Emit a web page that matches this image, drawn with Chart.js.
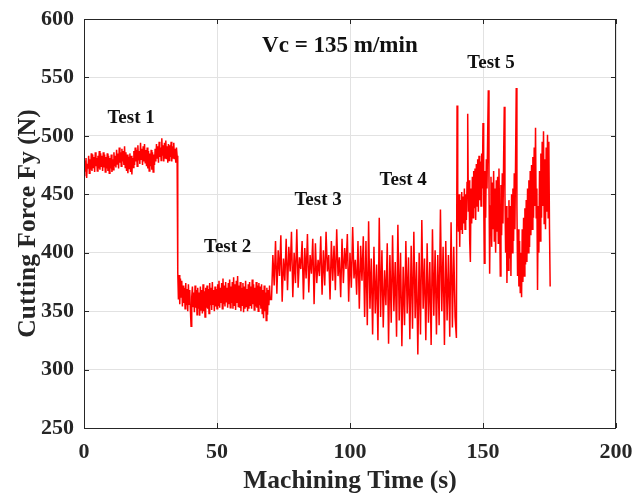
<!DOCTYPE html>
<html>
<head>
<meta charset="utf-8">
<script src="https://cdn.jsdelivr.net/npm/chart.js@4.4.1/dist/chart.umd.min.js"></script>
<style>
  html, body { margin: 0; padding: 0; background: #ffffff; }
  #wrap { width: 633px; height: 493px; }
</style>
</head>
<body>
<div id="wrap"><canvas id="c" width="633" height="493"></canvas></div>
<script>
// ---- Data (Cutting force Fy in N) ----
const xTicks = [0, 50, 100, 150, 200];
const yTicks = [250, 300, 350, 400, 450, 500, 550, 600];

// Test 1: t = 0 .. 35 s, every 0.25 s
const test1Start = 0, test1Step = 0.25;
const test1 = [466,479,470,481,464,476,472,483,468,480,471,485,
  470,484,473,482,469,486,474,481,470,483,472,487,
  471,485,474,483,470,486,473,484,469,482,472,485,
  470,483,468,481,472,484,469,480,471,486,474,483,
  473,488,476,485,472,490,477,486,474,489,478,487,475,491,473,486,
  470,484,468,482,472,485,469,483,467,481,473,487,
  475,490,478,488,474,492,479,487,476,494,480,489,475,491,478,493,477,488,474,490,
  472,487,470,485,474,488,471,486,469,484,475,489,
  478,493,481,491,477,495,482,490,479,498,483,492,478,494,481,496,480,491,477,493,
  479,492,482,495,478,491,481,494,480,489,477,490,483];

// Test 2: t = 35.25 .. 70 s, every 0.25 s
const test2Start = 35.25, test2Step = 0.25;
const test2 = [383,360,381,356,378,362,376,354,
  372,357,370,352,374,355,369,350,373,356,368,351,
  337,362,371,354,366,349,372,353,368,347,370,352,
  366,346,371,351,368,348,373,350,367,345,370,353,
  372,352,369,348,374,355,370,351,375,356,368,350,371,354,369,352,
  373,355,376,353,370,357,374,352,378,356,372,354,375,358,370,353,
  374,356,377,353,371,357,375,352,379,355,373,351,376,357,380,354,
  372,353,375,350,370,355,374,349,371,352,376,354,369,350,373,352,
  375,355,371,352,377,356,373,351,370,354,375,353,372,350,374,355,
  371,352,373,348,368,344,372,350,366,342,370,347,368,355,372,360];

// Test 3: t = 70.5 .. 105 s, every 0.5 s
const test3Start = 70.5, test3Step = 0.5;
const test3 = [360,398,372,410,365,402,380,415,358,395,376,412,368,405,384,418,362,400,374,420,
  370,396,386,410,360,404,378,416,366,398,382,412,356,408,374,394,380,414,364,402,
  372,418,384,398,360,410,376,406,368,420,380,396,362,412,374,404,386,416,358,400,
  370,422,378,394,364,410,352,406,376,414];

// Test 4: t = 105.5 .. 140 s, every 0.5 s
const test4Start = 105.5, test4Step = 0.5;
const test4 = [345,410,338,427,352,395,330,405,348,390,325,430,345,402,336,385,355,408,322,398,
  340,415,350,392,328,424,342,400,320,388,338,410,348,396,326,406,335,418,344,392,
  313,400,330,428,352,395,325,408,340,392,321,420,346,402,330,398,338,437,350,405,
  321,410,342,398,328,426,336,405,345,327];

// Test 5: t = 140.25 .. 175.25 s, every 0.25 s
const test5Start = 140.25, test5Step = 0.25;
const test5 = [526,440,418,450, 405,445,420,452, 416,448,425,455, 420,450,428,460,
  519,435,462,410, 392,455,425,465, 430,470,438,472, 428,476,440,480,
  435,483,445,478, 440,485,455,511, 450,391,470,430, 480,455,500,539,
  460,382,440,465, 405,460,420,470, 410,455,400,462, 418,465,408,472,
  430,380,458,415, 468,425,480,525, 450,400,440,374, 430,385,445,395,
  440,380,450,400, 455,410,468,420, 480,541,440,380, 420,371,410,366,
  400,362,420,375, 430,380,438,390, 445,392,455,400, 462,405,470,415,
  475,420,482,430, 490,440,507,430, 455,368,440,400, 470,410,485,430,
  495,440,504,425, 480,420,490,435, 501,430,495,420, 371];

const segmentStarts = [test1Start, test2Start, test3Start, test4Start, test5Start];
const segmentSteps = [test1Step, test2Step, test3Step, test4Step, test5Step];
const segmentValues = [test1, test2, test3, test4, test5];

const labelTexts = ['Vc = 135 m/min', 'Test 1', 'Test 2', 'Test 3', 'Test 4', 'Test 5'];
const labelAnchors = [[96.2, 577], [17.7, 515], [54, 405], [88, 445], [120, 462], [153, 562]];

// ---- Build the series ----
const points = [];
segmentValues.forEach((vals, s) => {
  vals.forEach((v, i) => points.push({ x: segmentStarts[s] + i * segmentSteps[s], y: v }));
});

const FONT = "'Liberation Serif', 'Times New Roman', serif";
const TXT = '#262626';

const framePlugin = {
  id: 'frame',
  afterDraw(chart) {
    const { ctx, chartArea: a, scales } = chart;
    ctx.save();
    ctx.strokeStyle = TXT;
    ctx.lineWidth = 1;
    ctx.strokeRect(a.left + 0.5, a.top + 0.5, a.right - a.left - 1, a.bottom - a.top);
    const tl = 5;
    ctx.beginPath();
    xTicks.forEach(v => {
      const px = Math.round(scales.x.getPixelForValue(v)) + 0.5;
      ctx.moveTo(px, a.bottom); ctx.lineTo(px, a.bottom - tl);
      ctx.moveTo(px, a.top); ctx.lineTo(px, a.top + tl);
    });
    yTicks.forEach(v => {
      const py = Math.round(scales.y.getPixelForValue(v)) + 0.5;
      ctx.moveTo(a.left, py); ctx.lineTo(a.left + tl, py);
      ctx.moveTo(a.right, py); ctx.lineTo(a.right - tl, py);
    });
    ctx.stroke();
    // annotations
    ctx.fillStyle = '#111111';
    ctx.textAlign = 'center';
    ctx.textBaseline = 'middle';
    labelTexts.forEach((t, i) => {
      ctx.font = (i === 0 ? 'bold 23px ' : 'bold 19px ') + FONT;
      ctx.fillText(t, scales.x.getPixelForValue(labelAnchors[i][0]), scales.y.getPixelForValue(labelAnchors[i][1]));
    });
    ctx.restore();
  }
};

new Chart(document.getElementById('c'), {
  type: 'line',
  data: {
    datasets: [{
      data: points,
      borderColor: '#ff0000',
      borderWidth: 1.5,
      pointRadius: 0,
      tension: 0,
      fill: false
    }]
  },
  options: {
    responsive: false,
    animation: false,
    devicePixelRatio: 1,
    layout: { padding: { top: 19, right: 17, left: 0, bottom: 0 } },
    plugins: { legend: { display: false }, tooltip: { enabled: false } },
    scales: {
      x: {
        type: 'linear',
        min: 0, max: 200,
        afterBuildTicks: s => { s.ticks = xTicks.map(v => ({ value: v })); },
        afterFit: s => { s.height = 65; s.paddingLeft = 0; s.paddingRight = 0; },
        grid: { color: '#e2e2e2', lineWidth: 1, drawTicks: false },
        border: { display: false },
        ticks: { color: TXT, padding: 11, maxRotation: 0, font: { family: FONT, size: 22, weight: 'bold' } },
        title: { display: true, text: 'Machining Time (s)', color: TXT, padding: 0, font: { family: FONT, size: 25.5, weight: 'bold', lineHeight: 0.9 } }
      },
      y: {
        type: 'linear',
        min: 250, max: 600,
        afterBuildTicks: s => { s.ticks = yTicks.map(v => ({ value: v })); },
        afterFit: s => { s.width = 84; s.paddingTop = 0; s.paddingBottom = 0; },
        grid: { color: '#e2e2e2', lineWidth: 1, drawTicks: false },
        border: { display: false },
        ticks: { color: TXT, padding: 10, font: { family: FONT, size: 22, weight: 'bold' } },
        title: { display: true, text: 'Cutting Force Fy (N)', color: TXT, padding: { top: 13, bottom: 0 }, font: { family: FONT, size: 25.5, weight: 'bold', lineHeight: 1.2 } }
      }
    }
  },
  plugins: [framePlugin]
});
</script>
</body>
</html>
